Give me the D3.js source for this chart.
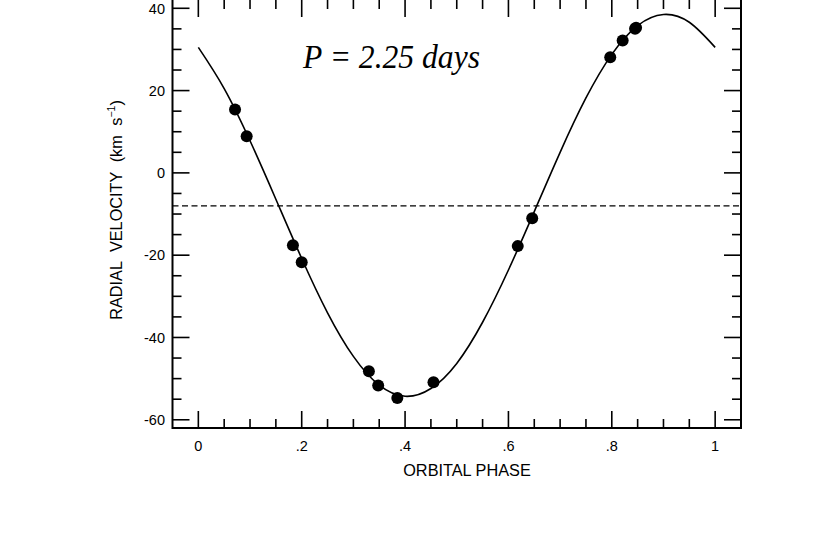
<!DOCTYPE html>
<html><head><meta charset="utf-8">
<script src="https://cdn.jsdelivr.net/npm/d3@7"></script>
<style>
body{margin:0;background:#fff;}
svg{display:block;}
</style></head>
<body>
<svg id="c" width="830" height="554"></svg>
<script>
// Observed radial velocities
const obsPhase = [0.071, 0.0935, 0.183, 0.200, 0.330, 0.348, 0.385, 0.455, 0.618, 0.646, 0.797, 0.821, 0.845, 0.847];
const obsVel   = [15.4, 8.9, -17.6, -21.7, -48.2, -51.7, -54.7, -50.9, -17.8, -11.0, 28.1, 32.2, 35.0, 35.3];
// Orbital solution curve
const fitPhase = [0, 0.05, 0.10, 0.15, 0.20, 0.25, 0.30, 0.35, 0.40, 0.45, 0.50, 0.55, 0.60, 0.65, 0.70, 0.75, 0.80, 0.85, 0.90, 0.95, 1.00];
const fitVel   = [30.5, 20.5, 7.8, -6.4, -20.8, -34.0, -44.6, -51.6, -54.3, -52.4, -46.3, -36.3, -23.6, -9.4, 5.0, 18.2, 28.8, 35.8, 38.5, 36.6, 30.5];
const gammaVel = -8;
const xTickVals = [0, 0.2, 0.4, 0.6, 0.8, 1];
const xTickLabels = ["0", ".2", ".4", ".6", ".8", "1"];
const yTickVals = [40, 20, 0, -20, -40, -60];
const yTickLabels = ["40", "20", "0", "-20", "-40", "-60"];
const periodText = "P = 2.25 days";

const L = 172.5, R = 741, T = -2, B = 428;
const x = d3.scaleLinear().domain([-0.05, 1.05]).range([L, R]);
const y = d3.scaleLinear().domain([-62, 42.5]).range([B, T]);

const svg = d3.select("#c");
const font = "'Liberation Sans', Arial, Helvetica, sans-serif";

// minor ticks
const xMinor = d3.range(0, 1.0001, 0.05).filter(v => !xTickVals.some(t => Math.abs(t - v) < 1e-6));
const yMinor = d3.range(-60, 40.001, 5).filter(v => !yTickVals.includes(v));

const gTicks = svg.append("g").attr("stroke", "#000").attr("stroke-width", 1.6);
const majLen = 17, minLen = 9;
// bottom & top
xTickVals.forEach(v => {
  gTicks.append("line").attr("x1", x(v)).attr("x2", x(v)).attr("y1", B).attr("y2", B - majLen);
  gTicks.append("line").attr("x1", x(v)).attr("x2", x(v)).attr("y1", T).attr("y2", T + majLen + 2);
});
xMinor.forEach(v => {
  gTicks.append("line").attr("x1", x(v)).attr("x2", x(v)).attr("y1", B).attr("y2", B - minLen);
  gTicks.append("line").attr("x1", x(v)).attr("x2", x(v)).attr("y1", T).attr("y2", T + minLen + 2);
});
// left & right
yTickVals.forEach(v => {
  gTicks.append("line").attr("x1", L).attr("x2", L + majLen).attr("y1", y(v)).attr("y2", y(v));
  gTicks.append("line").attr("x1", R).attr("x2", R - majLen).attr("y1", y(v)).attr("y2", y(v));
});
yMinor.forEach(v => {
  gTicks.append("line").attr("x1", L).attr("x2", L + minLen).attr("y1", y(v)).attr("y2", y(v));
  gTicks.append("line").attr("x1", R).attr("x2", R - minLen).attr("y1", y(v)).attr("y2", y(v));
});

// frame
svg.append("rect").attr("x", L).attr("y", T).attr("width", R - L).attr("height", B - T)
  .attr("fill", "none").attr("stroke", "#000").attr("stroke-width", 2);

// tick labels
svg.append("g").selectAll("text").data(xTickVals).join("text")
  .attr("x", d => x(d)).attr("y", 451)
  .attr("text-anchor", "middle").attr("font-family", font).attr("font-size", 14.5)
  .text((d, i) => xTickLabels[i]);
svg.append("g").selectAll("text").data(yTickVals).join("text")
  .attr("x", 165).attr("y", d => y(d)).attr("dy", "0.36em")
  .attr("text-anchor", "end").attr("font-family", font).attr("font-size", 14.5)
  .text((d, i) => yTickLabels[i]);

// axis titles
svg.append("text").attr("x", 467).attr("y", 476).attr("text-anchor", "middle")
  .attr("font-family", font).attr("font-size", 16.3).text("ORBITAL PHASE");
const yl = svg.append("text").attr("transform", "translate(122,210) rotate(-90)")
  .attr("text-anchor", "middle").attr("font-family", font).attr("font-size", 16.3)
  .attr("word-spacing", 5);
yl.append("tspan").text("RADIAL VELOCITY (km s");
yl.append("tspan").attr("font-size", 10.5).attr("dy", -7).text("−1");
yl.append("tspan").attr("dy", 7).text(")");

// gamma line
svg.append("line").attr("x1", L).attr("x2", R).attr("y1", y(gammaVel)).attr("y2", y(gammaVel))
  .attr("stroke", "#000").attr("stroke-width", 1.3).attr("stroke-dasharray", "6,3.5");

// fitted curve
const fit = fitPhase.map((p, i) => [p, fitVel[i]]);
svg.append("path").datum(fit)
  .attr("d", d3.line().x(d => x(d[0])).y(d => y(d[1])).curve(d3.curveNatural))
  .attr("fill", "none").attr("stroke", "#000").attr("stroke-width", 1.6);

// observations
svg.append("g").selectAll("circle").data(obsPhase.map((p, i) => [p, obsVel[i]])).join("circle")
  .attr("cx", d => x(d[0])).attr("cy", d => y(d[1])).attr("r", 6).attr("fill", "#000");

// period annotation
svg.append("text").attr("x", 303).attr("y", 68)
  .attr("font-family", "'Liberation Serif', 'Times New Roman', serif").attr("font-style", "italic")
  .attr("font-size", 34).attr("textLength", 177).attr("lengthAdjust", "spacingAndGlyphs")
  .text(periodText);
</script>
</body></html>
